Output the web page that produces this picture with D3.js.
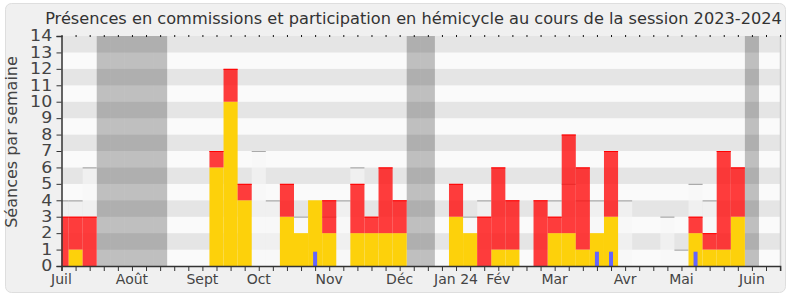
<!DOCTYPE html>
<html><head><meta charset="utf-8">
<script src="https://cdn.jsdelivr.net/npm/d3@7"></script>
<style>
html,body{margin:0;padding:0;background:#fff;}
svg{display:block;font-family:"DejaVu Sans",Verdana,sans-serif;}
</style></head>
<body>
<svg id="chart" width="790" height="300"></svg>
<script>
// ---- data (one entry per week of the session, index 0 = first week of July 2023) ----
const weeks = d3.range(52);
const commission = [0,1,0,0,0,0,0,0,0,0,0,6,10,4,0,0,3,2,4,2,0,2,2,2,2,0,0,0,3,2,0,1,1,0,0,2,2,1,2,3,0,0,0,0,0,2,1,1,3,0,0,0];
const hemicycleTop = [3,3,3,0,0,0,0,0,0,0,0,7,12,5,0,0,5,0,0,4,0,5,3,6,4,0,0,0,5,0,3,6,4,0,4,3,8,6,0,7,0,0,0,0,0,3,2,7,6,0,0,0];
const median = [4,4,6,0,0,0,0,0,0,0,0,0,0,0,7,4,0,3,0,3,4,6,0,0,0,0,0,0,0,3,4,0,0,0,0,4,5,4,4,0,4,0,0,3,1,5,4,0,0,0,0,0];
const questions = [0,0,0,0,0,0,0,0,0,0,0,0,0,0,0,0,0,0,0.87,0,0,0,0,0,0,0,0,0,0,0,0,0,0,0,0,0,0,0,0.87,0.87,0,0,0,0,0,0.87,0,0,0,0,0,0];
const vacances = [3,4,5,6,7,25,26,49];
const monthWeeks = [0,5,10,14,19,24,28,31,35,40,44,49];
const monthLabels = ["Juil","Août","Sept","Oct","Nov","Déc","Jan 24","Fév","Mar","Avr","Mai","Juin"];
const yTicks = d3.range(0,15);
const title = "Présences en commissions et participation en hémicycle au cours de la session 2023-2024";
const yTitle = "Séances par semaine";

// ---- layout ----
const svg = d3.select("#chart");
const L = 61.5, R = 780.5, T = 36, B = 266;
const x = d3.scaleLinear().domain([0,51]).range([L, R - 0.4]);
const bw = x(1) - x(0);
const y = d3.scaleLinear().domain([0,14]).range([B, T]);

// frame
svg.append("rect").attr("x",5.5).attr("y",3.5).attr("width",780).attr("height",289)
  .attr("rx",6).attr("fill","#f0f0f0").attr("stroke","#dedede");

svg.append("defs").append("clipPath").attr("id","plotclip")
  .append("rect").attr("x",L).attr("y",T).attr("width",R-L).attr("height",B-T);
const g = svg.append("g").attr("clip-path","url(#plotclip)");

// stripes
g.selectAll("rect.stripe").data(d3.range(0,14)).join("rect")
  .attr("x",L).attr("width",R-L)
  .attr("y",d=>y(d+1)).attr("height",d=>y(d)-y(d+1))
  .attr("fill",d=> d%2===1 ? "#e5e5e5" : "#fafafa");

// vacation bands
g.selectAll("rect.vac").data(vacances).join("rect")
  .attr("x",d=>x(d)-bw/2).attr("width",bw)
  .attr("y",T).attr("height",B-T)
  .attr("fill","rgba(0,0,0,0.235)");

// median (grey) bars
const med = weeks.filter(i=>median[i]>0);
g.selectAll("rect.med").data(med).join("rect")
  .attr("x",i=>x(i)-bw/2).attr("width",bw)
  .attr("y",i=>y(median[i])).attr("height",i=>B-y(median[i]))
  .attr("fill","rgba(246,246,246,0.6)");
g.selectAll("line.med").data(med).join("line")
  .attr("x1",i=>x(i)-bw/2).attr("x2",i=>x(i)+bw/2)
  .attr("y1",i=>y(median[i])+0.5).attr("y2",i=>y(median[i])+0.5)
  .attr("stroke","#aaaaaa").attr("stroke-width",1.2);

// commission (yellow) bars
const com = weeks.filter(i=>commission[i]>0);
g.selectAll("rect.com").data(com).join("rect")
  .attr("x",i=>x(i)-bw/2).attr("width",bw)
  .attr("y",i=>y(commission[i])).attr("height",i=>B-y(commission[i]))
  .attr("fill","#fdd10b");

// hemicycle (red) bars stacked on commission
const hem = weeks.filter(i=>hemicycleTop[i]>commission[i]);
g.selectAll("rect.hem").data(hem).join("rect")
  .attr("x",i=>x(i)-bw/2).attr("width",bw)
  .attr("y",i=>y(hemicycleTop[i])).attr("height",i=>y(commission[i])-y(hemicycleTop[i]))
  .attr("fill","rgba(255,12,12,0.8)");
g.selectAll("line.hem").data(hem).join("line")
  .attr("x1",i=>x(i)-bw/2).attr("x2",i=>x(i)+bw/2)
  .attr("y1",i=>y(hemicycleTop[i])+0.5).attr("y2",i=>y(hemicycleTop[i])+0.5)
  .attr("stroke","#ff0000").attr("stroke-width",1);

// questions (blue) thin bars
const q = weeks.filter(i=>questions[i]>0);
g.selectAll("rect.q").data(q).join("rect")
  .attr("x",i=>x(i)-2).attr("width",4)
  .attr("y",i=>y(questions[i])).attr("height",i=>B-y(questions[i]))
  .attr("fill","#6464ff");

// right border
svg.append("line").attr("x1",R).attr("x2",R).attr("y1",T).attr("y2",B)
  .attr("stroke","#cfcfcf").attr("stroke-width",1.5);

// x axis
const xAxis = d3.axisBottom(x).tickValues(weeks).tickSize(5).tickFormat("");
const xa = svg.append("g").attr("transform",`translate(0,${B})`).call(xAxis);
xa.select(".domain").attr("stroke","#333").attr("stroke-width",1.5);
xa.selectAll(".tick line").attr("stroke","#333");
svg.selectAll("text.month").data(monthWeeks).join("text")
  .attr("x",d=>x(d)).attr("y",283.5).attr("text-anchor","middle")
  .attr("font-size",14).attr("fill","#444")
  .text((d,i)=>monthLabels[i]);

// top minor ticks
const xTop = d3.axisTop(x).tickValues(weeks).tickSize(-2).tickFormat("");
const xt = svg.append("g").attr("transform",`translate(0,${T-1})`).call(xTop);
xt.select(".domain").remove();
xt.selectAll(".tick line").attr("stroke","#111");

// y axis
const yAxis = d3.axisLeft(y).tickValues(yTicks).tickSize(5).tickPadding(3).tickFormat(d3.format("d"));
const ya = svg.append("g").attr("transform",`translate(${L},0)`).call(yAxis);
ya.select(".domain").attr("stroke","#333").attr("stroke-width",1.5);
ya.selectAll(".tick line").attr("stroke","#333");
ya.selectAll(".tick text").attr("font-size",15).attr("fill","#444")
  .attr("font-family","DejaVu Sans, Verdana, sans-serif")
  .attr("transform","scale(1.16,1)");

// titles
svg.append("text").attr("x",413.5).attr("y",24).attr("text-anchor","middle")
  .attr("font-size",16.2).attr("fill","#333").text(title);
svg.append("text").attr("transform","translate(17,142) rotate(-90)")
  .attr("text-anchor","middle").attr("font-size",16).attr("fill","#444").text(yTitle);
</script>
</body></html>
